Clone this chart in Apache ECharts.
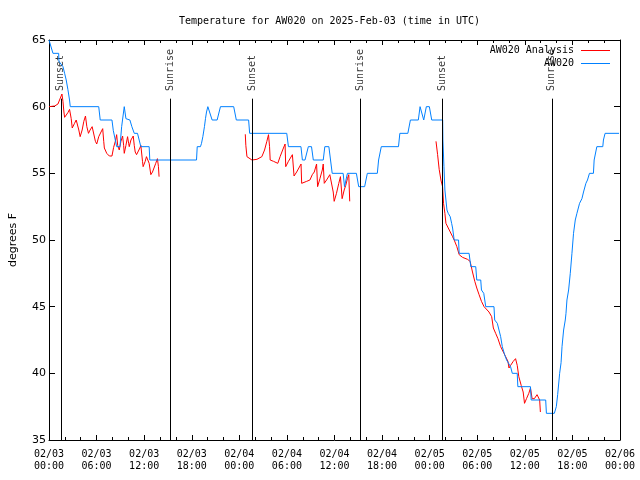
<!DOCTYPE html>
<html><head><meta charset="utf-8">
<script src="https://cdn.jsdelivr.net/npm/echarts@6/dist/echarts.min.js"></script>
<style>html,body{margin:0;padding:0;background:#fff}#c{width:640px;height:480px}</style>
</head><body><div id="c"></div>
<script>
// ---------- DATA ----------
const titleText = 'Temperature for AW020 on 2025-Feb-03 (time in UTC)';
const yAxisName = 'degrees F';
const seriesNames = ['AW020 Analysis', 'AW020'];
// x tick labels every 6 hours from 02/03 00:00 (hours since start)
const xTickLabels = ['02/03\n00:00','02/03\n06:00','02/03\n12:00','02/03\n18:00',
  '02/04\n00:00','02/04\n06:00','02/04\n12:00','02/04\n18:00',
  '02/05\n00:00','02/05\n06:00','02/05\n12:00','02/05\n18:00','02/06\n00:00'];
// sun events (hours since 02/03 00:00 UTC)
const sunHours  = [1.5, 15.3, 25.6, 39.25, 49.57, 63.4];
const sunLabels = ['Sunset','Sunrise','Sunset','Sunrise','Sunset','Sunrise'];
// analysis (red) segments: [hour, degF]
const analysisSeg1 = [[0,60],[0.71,60.05],[1.13,60.2],[1.63,60.95],[1.76,60.4],[1.88,59.6],[1.97,59.2],[2.38,59.55],[2.59,59.8],[2.8,59.1],
  [2.93,58.4],[3.22,58.75],[3.43,59.0],[3.64,59.1],[3.76,58.25],[3.93,57.75],[4.18,58.25],[4.39,58.9],[4.6,59.3],[4.77,58.5],
  [4.98,58.0],[5.18,58.25],[5.44,58.5],[5.6,58.6],[5.85,57.4],[6.02,57.2],[6.27,57.75],[6.56,58.1],[6.77,58.35],[6.9,57.4],
  [6.98,56.9],[7.28,56.5],[7.61,56.3],[7.94,56.3],[8.15,56.95],[8.36,57.4],[8.53,57.9],[8.66,57.1],[8.86,56.75],[9.07,57.4],
  [9.28,57.8],[9.41,57.1],[9.49,56.5],[9.7,57.1],[9.91,57.75],[10.04,57.25],[10.12,57.0],[10.33,57.5],[10.62,57.8],[10.75,57.1],
  [10.87,56.6],[11.04,56.4],[11.29,56.5],[11.46,56.9],[11.58,57.1],[11.79,55.9],[11.87,55.5],[12.13,55.9],[12.29,56.25],[12.5,56.4],
  [12.63,55.75],[12.84,54.9],[13.05,55.1],[13.46,55.75],[13.67,56.1],[13.8,55.5],[13.88,54.75]];
const analysisSeg2 = [[24.75,57.93],[24.82,57.1],[24.96,56.25],[25.59,56.0],[26.22,56.05],[26.84,56.25],[27.18,56.75],[27.47,57.4],[27.68,57.9],[27.81,57.0],
  [27.89,56.0],[28.31,55.9],[28.85,55.75],[29.14,56.25],[29.56,56.9],[29.77,57.2],[29.85,55.5],[30.19,55.9],[30.69,56.4],[30.9,54.8],
  [31.23,55.1],[31.78,55.7],[31.86,54.25],[32.49,54.4],[32.9,54.5],[33.2,54.9],[33.45,55.1],[33.74,55.7],[33.87,54.0],[34.16,54.6],
  [34.46,55.25],[34.58,55.7],[34.71,54.25],[35.0,54.5],[35.41,54.9],[35.63,55.0],[35.84,53.6],[35.96,52.9],[36.25,53.5],[36.54,54.25],
  [36.75,54.75],[36.88,53.75],[36.96,53.1],[37.22,53.75],[37.42,54.1],[37.63,54.6],[37.8,54.9],[37.92,52.9]];
const analysisSeg3 = [[48.8,57.4],[49.0,56.4],[49.2,55.3],[49.42,54.5],[49.63,54.0],[49.75,52.75],[49.92,52.0],[50.05,51.25],[50.47,50.75],[50.89,50.25],
  [51.09,50.0],[51.43,49.5],[51.72,48.9],[52.14,48.7],[52.77,48.55],[53.1,48.4],[53.4,47.6],[53.69,46.9],[53.94,46.4],[54.23,45.9],
  [54.53,45.4],[54.86,45.0],[55.48,44.6],[55.82,44.25],[56.03,43.4],[56.32,43.0],[56.61,42.6],[56.95,42.0],[57.16,41.75],[57.37,41.5],
  [57.58,41.25],[57.87,40.9],[58.0,40.4],[58.21,40.6],[58.54,40.9],[58.83,41.1],[59.04,40.6],[59.24,39.75],[59.54,39.1],[59.79,38.6],
  [59.96,37.75],[60.21,38.1],[60.5,38.5],[60.71,38.9],[60.92,38.1],[61.2,38.1],[61.54,38.4],[61.74,38.55],[61.87,38.0],[61.96,37.1]];
// station observations (blue): [hour, degF]
const stationObs = [[0,65],[0.5,64],[1.22,64],[1.25,63.4],[1.76,63],[1.97,62.5],[2.17,62],[2.38,61.3],[2.59,60.5],[2.68,60],
  [6.27,60],[6.46,59],[7.94,59],[8.11,58.2],[8.36,57.5],[8.53,57],[8.95,57],[9.16,58.5],[9.49,60],[9.7,59.1],
  [10.2,59],[10.45,58.5],[10.75,58],[11.16,58],[11.37,57.5],[11.58,57],[12.63,57],[12.71,56],[18.6,56],[18.69,57],
  [19.1,57],[19.23,57.25],[19.4,57.75],[19.6,58.5],[19.73,59.1],[19.86,59.6],[20.03,60],[20.24,60],[20.57,59],[21.2,59],
  [21.62,60],[23.29,60],[23.62,59],[25.17,59],[25.3,58],[29.98,58],[30.19,57],[31.77,57],[31.95,56],[32.28,56],
  [32.7,57],[33.1,57],[33.33,56],[34.58,56],[34.78,57],[35.29,57],[35.5,56],[35.71,55],[37.09,55],[37.26,54],
  [37.5,54],[37.63,55],[38.76,55],[39.05,54],[39.8,54],[40.14,55],[41.4,55],[41.56,56],[41.9,57],[44.07,57],
  [44.24,58],[45.25,58],[45.57,59],[46.57,59],[46.79,60],[47.04,60],[47.25,59],[47.42,59],[47.58,60],[47.96,60],
  [48.26,59],[49.64,59],[49.67,57.5],[49.8,55.5],[49.92,53.75],[50.05,53],[50.18,52.25],[50.34,52],[50.59,51.75],[50.77,51.25],
  [50.89,50.9],[51.09,50],[51.64,50],[51.72,49],[52.97,49],[53.19,48],[53.81,48],[53.94,47],[54.44,47],[54.53,46.25],
  [54.82,46],[55.07,45],[56.11,45],[56.2,44],[56.53,43.75],[56.95,42.75],[57.16,42],[57.45,41.4],[57.7,41],[58.2,40.5],
  [58.42,40],[59.04,40],[59.12,39],[60.71,39],[60.8,38],[62.63,38],[62.72,37],[63.72,37],[63.97,37.5],[64.14,38.4],
  [64.39,40],[64.57,40.8],[64.69,42],[64.89,43.25],[65.1,44],[65.19,44.5],[65.31,45.5],[65.52,46.25],[65.73,47.5],[65.94,49],
  [66.14,50.5],[66.36,51.5],[66.57,52],[66.9,52.75],[67.2,53.1],[67.4,53.6],[67.7,54.25],[67.9,54.5],[68.15,55],[68.65,55],
  [68.74,56],[69.08,57],[69.83,57],[69.91,57.5],[70.12,58],[71.88,58]];

// ---------- CHART ----------
const mono = 'DejaVu Sans Mono';
const sans = 'DejaVu Sans';
const RED = '#ff0000', BLUE = '#0080ff';
const X_MIN = 0, X_MAX = 72, X_STEP = 6;
const Y_MIN = 35, Y_MAX = 65, Y_STEP = 5;
const SUN_LINE_TOP = 60.6, SUN_LABEL_BASE = 61.1;

const chart = echarts.init(document.getElementById('c'), null, {renderer: 'canvas'});

const xCommon = {
  type: 'value', min: X_MIN, max: X_MAX, interval: X_STEP,
  axisLine: {show: true, onZero: false, lineStyle: {color: '#000', width: 1}},
  axisTick: {show: true, inside: true, length: 5, lineStyle: {color: '#000'}},
  minorTick: {show: true, splitNumber: 3, length: 3, lineStyle: {color: '#000'}},
  splitLine: {show: false}
};
const yCommon = {
  type: 'value', min: Y_MIN, max: Y_MAX, interval: Y_STEP,
  axisLine: {show: true, onZero: false, lineStyle: {color: '#000', width: 1}},
  axisTick: {show: true, inside: true, length: 6, lineStyle: {color: '#000'}},
  splitLine: {show: false}
};

function lineSeries(name, data, color, z) {
  return {
    name: name, type: 'line', data: data, symbol: 'none', showSymbol: false,
    lineStyle: {color: color, width: 1}, itemStyle: {color: color},
    animation: false, z: z
  };
}

const option = {
  animation: false,
  backgroundColor: '#fff',
  title: {
    text: titleText, left: 179, top: 16, padding: 0,
    textStyle: {fontFamily: mono, fontSize: 10, fontWeight: 'normal', color: '#000'}
  },
  legend: {
    data: seriesNames, orient: 'vertical', align: 'right', right: 30, top: 44,
    itemWidth: 29, itemHeight: 1, itemGap: 0, icon: 'rect', padding: 0,
    textStyle: {fontFamily: mono, fontSize: 10, color: '#000', lineHeight: 13, padding: [0, 2, 0, 0]}
  },
  grid: {left: 46, right: 20, top: 40, bottom: 40, containLabel: false},
  xAxis: [
    Object.assign({}, xCommon, {
      position: 'bottom',
      axisLabel: {
        show: true, margin: 8, color: '#000', fontFamily: mono, fontSize: 10, lineHeight: 12.5,
        formatter: v => xTickLabels[Math.round((v - X_MIN) / X_STEP)] || ''
      }
    }),
    Object.assign({}, xCommon, {position: 'top', axisLabel: {show: false}})
  ],
  yAxis: [
    Object.assign({}, yCommon, {
      position: 'left',
      name: yAxisName, nameLocation: 'middle', nameRotate: 90, nameGap: 30,
      nameTextStyle: {fontFamily: sans, fontSize: 11, color: '#000'},
      axisLabel: {show: true, margin: 3, color: '#000', fontFamily: sans, fontSize: 11}
    }),
    Object.assign({}, yCommon, {position: 'right', axisLabel: {show: false}})
  ],
  series: [
    {
      name: 'sun', type: 'scatter', symbolSize: 0, z: 1, silent: true,
      data: sunHours.map((h, i) => ({value: [h, SUN_LABEL_BASE], name: sunLabels[i]})),
      label: {
        show: true, formatter: p => p.name, rotate: 90, position: 'inside',
        align: 'left', verticalAlign: 'middle', offset: [1, 0],
        fontFamily: mono, fontSize: 10, color: '#000'
      },
      markLine: {
        silent: true, symbol: ['none', 'none'], animation: false,
        label: {show: false},
        lineStyle: {color: '#000', width: 1, type: 'solid'},
        data: sunHours.map(h => [{coord: [h, Y_MIN]}, {coord: [h, SUN_LINE_TOP]}])
      }
    },
    lineSeries(seriesNames[0], analysisSeg1, RED, 2),
    lineSeries(seriesNames[0], analysisSeg2, RED, 2),
    lineSeries(seriesNames[0], analysisSeg3, RED, 2),
    lineSeries(seriesNames[1], stationObs, BLUE, 3)
  ]
};
chart.setOption(option);
</script>
</body></html>
